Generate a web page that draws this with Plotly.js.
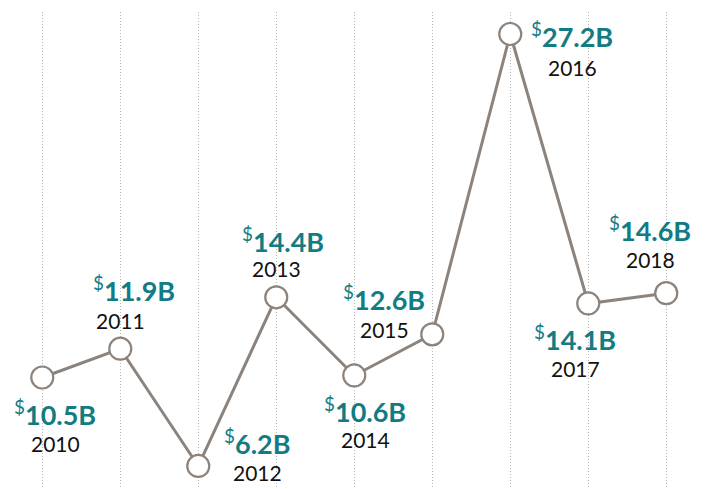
<!DOCTYPE html>
<html>
<head>
<meta charset="utf-8">
<script src="https://cdn.plot.ly/plotly-3.0.1.min.js"></script>
<style>html,body{margin:0;padding:0;background:#fff;}#chart{width:710px;height:489px;}</style>
</head>
<body>
<div id="chart"></div>
<script>
const years = [2010, 2011, 2012, 2013, 2014, 2015, 2016, 2017, 2018];
const values = [10.5, 11.9, 6.2, 14.4, 10.6, 12.6, 27.2, 14.1, 14.6];
const valueLabels = ["10.5B", "11.9B", "6.2B", "14.4B", "10.6B", "12.6B", "27.2B", "14.1B", "14.6B"];
const yearLabels = ["2010", "2011", "2012", "2013", "2014", "2015", "2016", "2017", "2018"];

// label offsets in pixels relative to each point: [value dx, value dy, year dx, year dy]
const labelOffsets = [
  [13, 35, 13, 66],
  [14, -60, 0, -28],
  [59, -24, 59, 7],
  [7, -57, 0, -29],
  [11, 35, 11, 64],
  [-48, -36, -48, -5],
  [62, 1, 62, 33],
  [-13, 35, -13, 65],
  [-16, -64, -16, -34]
];

const teal = '#137b83';
const lineCol = '#8c837c';

const annotations = [];
years.forEach((yr, i) => {
  const o = labelOffsets[i];
  annotations.push({
    x: yr, y: values[i], xref: 'x', yref: 'y', showarrow: false,
    xshift: o[0], yshift: -o[1],
    text: '<sup>$</sup><b>' + valueLabels[i] + '</b>',
    font: {family: 'Lato, "Open Sans", sans-serif', size: 27, color: teal},
    xanchor: 'center', yanchor: 'middle'
  });
  annotations.push({
    x: yr, y: values[i], xref: 'x', yref: 'y', showarrow: false,
    xshift: o[2], yshift: -o[3],
    text: yearLabels[i],
    font: {family: 'Lato, "Open Sans", sans-serif', size: 21, color: '#111'},
    xanchor: 'center', yanchor: 'middle'
  });
});

const trace = {
  x: years, y: values, type: 'scatter', mode: 'lines+markers',
  line: {color: lineCol, width: 3},
  marker: {size: 22, color: '#ffffff', line: {color: lineCol, width: 2.2}},
  cliponaxis: false, hoverinfo: 'none'
};

const layout = {
  width: 710, height: 489,
  margin: {l: 0, r: 0, t: 12, b: 0, pad: 0},
  paper_bgcolor: '#fff', plot_bgcolor: '#fff',
  showlegend: false,
  xaxis: {range: [2009.458, 2018.561], showgrid: true, gridcolor: '#b8b8b8', griddash: '1px,2px', gridwidth: 1,
          tickvals: years, showticklabels: false, zeroline: false, showline: false, ticks: ''},
  yaxis: {range: [5.08, 28.27], showgrid: false, zeroline: false, showline: false, showticklabels: false, ticks: ''},
  annotations: annotations
};

Plotly.newPlot('chart', [trace], layout, {displayModeBar: false, staticPlot: true});
</script>
</body>
</html>
